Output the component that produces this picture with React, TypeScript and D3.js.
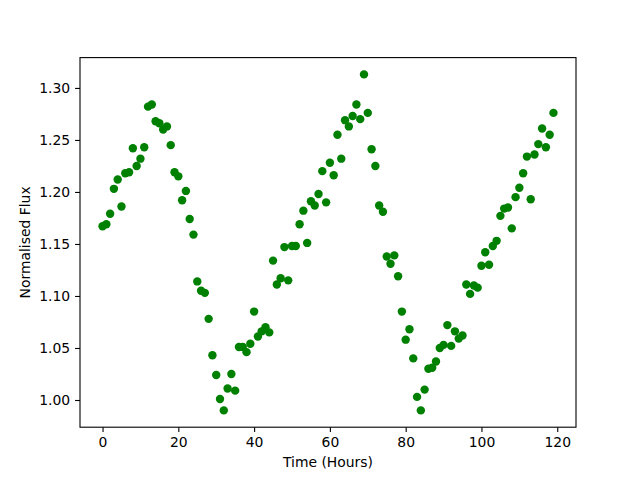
import React, { useEffect, useRef } from 'react';
import * as d3 from 'd3';

// hours 0..119, one reading per hour
const hours: number[] = d3.range(0, 120);

const flux: number[] = [
  1.167, 1.169, 1.179, 1.203, 1.212, 1.186, 1.218, 1.219, 1.242, 1.225,
  1.232, 1.243, 1.282, 1.284, 1.268, 1.266, 1.260, 1.263, 1.245, 1.219,
  1.215, 1.192, 1.201, 1.174, 1.159, 1.114, 1.105, 1.103, 1.078, 1.043,
  1.024, 1.001, 0.990, 1.011, 1.025, 1.009, 1.051, 1.051, 1.046, 1.054,
  1.085, 1.061, 1.066, 1.070, 1.065, 1.134, 1.111, 1.117, 1.147, 1.115,
  1.148, 1.148, 1.169, 1.182, 1.151, 1.191, 1.187, 1.198, 1.220, 1.190,
  1.228, 1.216, 1.255, 1.232, 1.269, 1.263, 1.273, 1.284, 1.270, 1.313,
  1.276, 1.241, 1.225, 1.187, 1.181, 1.138, 1.131, 1.139, 1.119, 1.085,
  1.058, 1.068, 1.040, 1.003, 0.990, 1.010, 1.030, 1.031, 1.037, 1.050,
  1.053, 1.072, 1.052, 1.066, 1.059, 1.062, 1.111, 1.102, 1.110, 1.108,
  1.129, 1.142, 1.130, 1.148, 1.153, 1.177, 1.184, 1.185, 1.165, 1.195,
  1.204, 1.218, 1.234, 1.193, 1.236, 1.246, 1.261, 1.243, 1.255, 1.276,
];

const xTicks: number[] = [0, 20, 40, 60, 80, 100, 120];
const yTicks: number[] = [1.0, 1.05, 1.1, 1.15, 1.2, 1.25, 1.3];

const App = () => {
  const ref = useRef<SVGSVGElement>(null);

  useEffect(() => {
    document.body.style.margin = '0';
    const totalWidth = 640;
    const totalHeight = 480;
    const margin = { top: 57.6, right: 64, bottom: 52.8, left: 80 };
    const width = totalWidth - margin.left - margin.right;
    const height = totalHeight - margin.top - margin.bottom;
    const font = 'DejaVu Sans';
    const fontSize = '13.9px';

    const svg = d3.select(ref.current);
    svg.selectAll('*').remove();
    svg.attr('width', totalWidth).attr('height', totalHeight);

    // matplotlib style 5% padding
    const [xMin, xMax] = d3.extent(hours) as [number, number];
    const xPad = (xMax - xMin) * 0.05;
    const [yMin, yMax] = d3.extent(flux) as [number, number];
    const yPad = (yMax - yMin) * 0.05;

    const xScale = d3.scaleLinear().domain([xMin - xPad, xMax + xPad]).range([0, width]);
    const yScale = d3.scaleLinear().domain([yMin - yPad, yMax + yPad]).range([height, 0]);

    const g = svg.append('g').attr('transform', `translate(${margin.left},${margin.top})`);

    g.selectAll('circle')
      .data(hours)
      .enter().append('circle')
      .attr('cx', (d) => xScale(d))
      .attr('cy', (d, i) => yScale(flux[i]))
      .attr('r', 4.2)
      .style('fill', '#008000');

    const xAxis = g.append('g')
      .attr('transform', `translate(0,${height})`)
      .call(d3.axisBottom(xScale).tickValues(xTicks).tickSize(4.9).tickPadding(4.9).tickFormat(d3.format('d')));
    const yAxis = g.append('g')
      .call(d3.axisLeft(yScale).tickValues(yTicks).tickSize(4.9).tickPadding(4.9).tickFormat(d3.format('.2f')));

    [xAxis, yAxis].forEach((a) => {
      a.select('.domain').remove();
      a.selectAll('line').attr('stroke', '#000').attr('stroke-width', 1.1);
      a.selectAll('text').style('font-family', font).style('font-size', fontSize).attr('fill', '#000');
    });

    // frame
    g.append('rect')
      .attr('width', width)
      .attr('height', height)
      .attr('fill', 'none')
      .attr('stroke', '#000')
      .attr('stroke-width', 1.1);

    // X-axis label
    svg.append('text')
      .attr('text-anchor', 'middle')
      .attr('x', margin.left + width / 2)
      .attr('y', 466.5)
      .text('Time (Hours)')
      .style('font-family', font)
      .style('font-size', fontSize);

    // Y-axis label
    svg.append('text')
      .attr('text-anchor', 'middle')
      .attr('transform', `translate(30,${margin.top + height / 2}) rotate(-90)`)
      .text('Normalised Flux')
      .style('font-family', font)
      .style('font-size', fontSize);
  }, []);

  return <svg ref={ref} style={{ display: 'block' }} />;
};

export default App;
